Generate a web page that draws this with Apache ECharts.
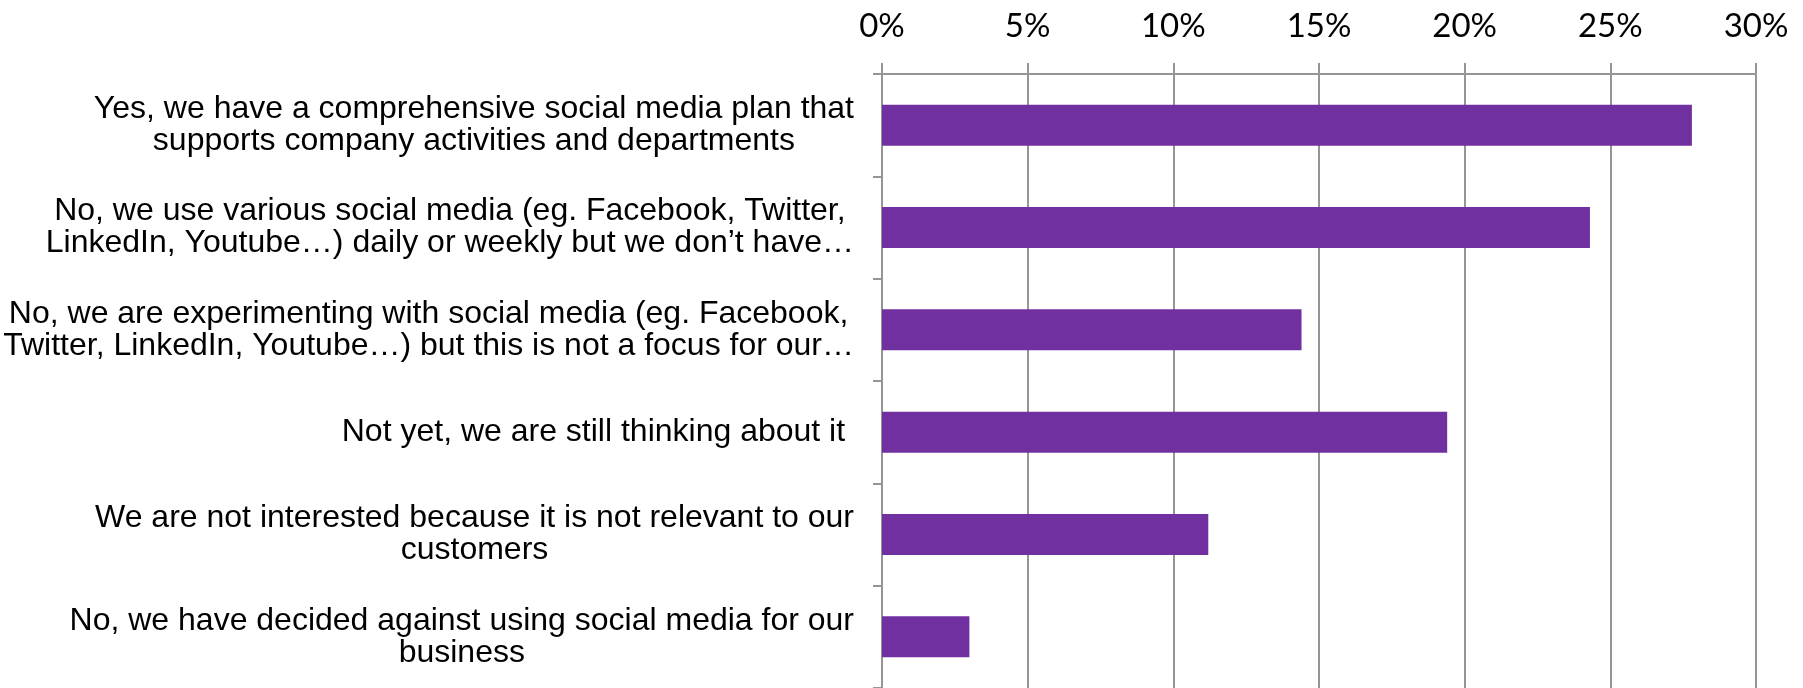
<!DOCTYPE html>
<html>
<head>
<meta charset="utf-8">
<title>Social media plan</title>
<script src="https://cdn.jsdelivr.net/npm/echarts@6/dist/echarts.min.js"></script>
<style>
  html, body { margin: 0; padding: 0; background: #ffffff; }
  #chart { width: 1803px; height: 688px; }
</style>
</head>
<body>
<div id="chart"></div>
<script>
// Survey answers, each line of a label kept as its own string
const categories = [
  ['Yes, we have a comprehensive social media plan that', 'supports company activities and departments'],
  ['No, we use various social media (eg. Facebook, Twitter,', 'LinkedIn, Youtube…) daily or weekly but we don’t have…'],
  ['No, we are experimenting with social media (eg. Facebook,', 'Twitter, LinkedIn, Youtube…) but this is not a focus for our…'],
  ['Not yet, we are still thinking about it '],
  ['We are not interested because it is not relevant to our', 'customers'],
  ['No, we have decided against using social media for our', 'business']
];

// Share of respondents, in percent
const shares = [27.8, 24.3, 14.4, 19.4, 11.2, 3.0];

// Percent axis ticks
const axisMin = 0;
const axisMax = 30;
const axisStep = 5;

const gridGray = '#959595';

const chart = echarts.init(document.getElementById('chart'), null, { renderer: 'canvas' });

chart.setOption({
  backgroundColor: '#ffffff',
  animation: false,
  grid: { left: 882, right: 47, top: 74, bottom: 0, containLabel: false },
  xAxis: {
    type: 'value',
    position: 'top',
    min: axisMin,
    max: axisMax,
    interval: axisStep,
    axisLine: { show: true, lineStyle: { color: gridGray, width: 2 } },
    axisTick: { show: true, length: 11, lineStyle: { color: gridGray, width: 2 } },
    splitLine: { show: true, lineStyle: { color: gridGray, width: 2 } },
    axisLabel: {
      formatter: '{value}%',
      margin: 31,
      color: '#000000',
      fontFamily: 'Lato, "Open Sans", sans-serif',
      fontSize: 33
    }
  },
  yAxis: {
    type: 'category',
    inverse: true,
    data: categories.map(lines => lines.join('\n')),
    axisLine: { show: true, lineStyle: { color: gridGray, width: 2 } },
    axisTick: { show: true, length: 9, lineStyle: { color: gridGray, width: 2 } },
    splitLine: { show: false },
    axisLabel: {
      align: 'right',
      margin: 28,
      formatter: function (value) {
        return value.split('\n').map(line => '{c|' + line + '}').join('\n');
      },
      rich: {
        c: {
          align: 'center',
          color: '#000000',
          fontFamily: '"Liberation Sans", Arial, sans-serif',
          fontSize: 32,
          lineHeight: 32
        }
      }
    }
  },
  series: [{
    type: 'bar',
    data: shares,
    barCategoryGap: '60%',
    itemStyle: { color: '#7030A0' }
  }]
});
</script>
</body>
</html>
